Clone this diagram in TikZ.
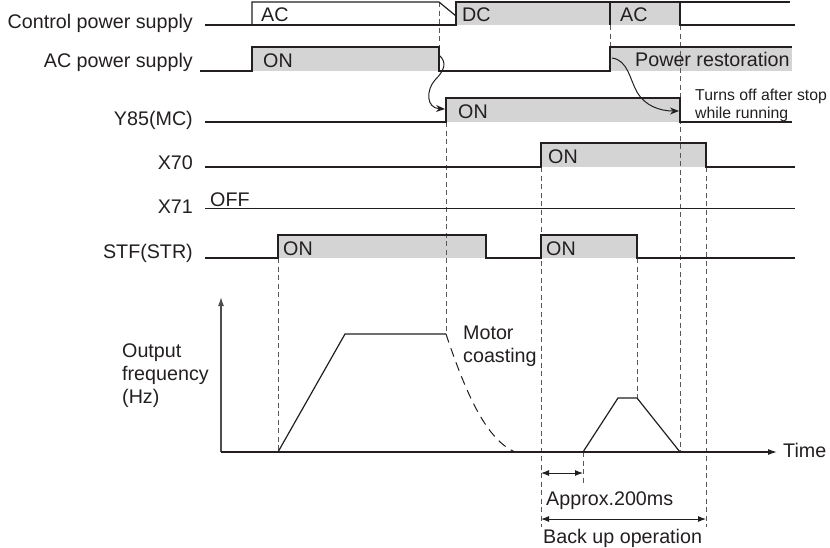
\documentclass[tikz,border=0pt]{standalone}
\usepackage{fontspec}
\setmainfont{Liberation Sans}
\usetikzlibrary{arrows.meta}
\definecolor{boxgray}{HTML}{D4D4D4}
\definecolor{ink}{HTML}{231F20}

\begin{document}
\begin{tikzpicture}[
  x=1pt, y=-1pt,
  sig/.style={draw=ink, line width=1.2pt},
  hi/.style={fill=boxgray, draw=none},
  guide/.style={draw=ink!75, line width=0.9pt, dash pattern=on 5pt off 3.5pt},
  txt/.style={font=\fontsize{19.7}{23}\selectfont, text=ink, inner sep=0pt},
  note/.style={font=\fontsize{15.8}{17.5}\selectfont, text=ink, inner sep=0pt, align=left},
  arrow/.style={-{Stealth[length=9pt,width=7pt]}, draw=ink, line width=1pt},
  dim/.style={{Latex[length=8pt,width=6pt]}-{Latex[length=8pt,width=6pt]}, draw=ink, line width=1pt}
]
\useasboundingbox (0,0) rectangle (830,547);

\fill[hi] (456,2) rectangle (680,25);
\fill[hi] (252,47) rectangle (439,71);
\fill[hi] (610,47) rectangle (792,71);
\fill[hi] (446,98) rectangle (680,122);
\fill[hi] (541,143) rectangle (706,167);
\fill[hi] (278,235) rectangle (486,258);
\fill[hi] (541,235) rectangle (637,258);

\foreach \x/\a/\b in {439/2/47, 446/122/334, 278/258/452, 541/167/527, 610/25/47,
                       680/25/452, 637/258/398, 706/167/527, 583/452/483}
  \draw[guide] (\x,\a) -- (\x,\b);

\draw[sig] (205,25) -- (456,25) -- (456,2) -- (790,2);
\draw[sig] (252,25) -- (252,2) -- (439,2) -- (456,16);
\draw[sig] (610,2) -- (610,25);
\draw[sig] (680,2) -- (680,25) -- (795,25);
\draw[sig] (200,71) -- (252,71) -- (252,47) -- (439,47) -- (439,71) -- (610,71) -- (610,47) -- (792,47);
\draw[sig] (205,122) -- (446,122) -- (446,98) -- (680,98) -- (680,122) -- (792,122);
\draw[sig] (205,167) -- (541,167) -- (541,143) -- (706,143) -- (706,167) -- (795,167);
\draw[sig] (205,208.5) -- (795,208.5);
\draw[sig] (205,258) -- (278,258) -- (278,235) -- (486,235) -- (486,258) -- (541,258)
  -- (541,235) -- (637,235) -- (637,258) -- (795,258);

\node[txt, anchor=base east] (ctrl) at (193,28) {Control power supply};
\node[txt, anchor=base east] (acps) at (193,67) {AC power supply};
\node[txt, anchor=base east] (y85) at (193,125) {Y85(MC)};
\node[txt, anchor=base east] (x70) at (193,169) {X70};
\node[txt, anchor=base east] (x71) at (193,213) {X71};
\node[txt, anchor=base east] (stf) at (193,258) {STF(STR)};
\node[txt, anchor=base west] (off) at (210,206) {OFF};

\node[txt, anchor=base west] (ac1) at (261,21.5) {AC};
\node[txt, anchor=base west] (dc) at (462,21.5) {DC};
\node[txt, anchor=base west] (ac2) at (620,21.5) {AC};
\node[txt, anchor=base west] (acon) at (263,67) {ON};
\node[txt, anchor=base west] (restore) at (635,66.5) {Power restoration};
\node[txt, anchor=base west] (y85on) at (458,118) {ON};
\node[txt, anchor=base west] (x70on) at (548,163) {ON};
\node[txt, anchor=base west] (stfon1) at (283,255) {ON};
\node[txt, anchor=base west] (stfon2) at (546,255) {ON};
\node[note, anchor=north west] (turnoff) at (695,89.3) {Turns off after stop\\while running};

\coordinate (acfall) at (439,55);
\coordinate (mcon) at (445,109);
\coordinate (acrise) at (612,58);
\coordinate (mcoff) at (679,111);
\draw[arrow] (acfall) .. controls (447,62) and (445,70) .. (435,80)
  .. controls (426,90) and (426,108) .. (mcon);
\draw[arrow] (acrise) .. controls (628,60) and (630,80) .. (637,92)
  .. controls (645,106) and (660,111) .. (mcoff);

\coordinate (origin) at (221,452);
\coordinate (ytop) at (221,297);
\coordinate (xend) at (777,452);
\draw[-{Latex[length=9pt,width=6pt]}, draw=ink!80, line width=1.3pt] (origin) -- (ytop);
\draw[-{Latex[length=9pt,width=6pt]}, draw=ink, line width=1.2pt] (origin) -- (xend);
\node[txt, anchor=base west] (time) at (783,457) {Time};
\node[txt, anchor=north west, align=left] (ofreq) at (122,343.7) {Output\\frequency\\(Hz)};

\draw[sig] (278,452) -- (345,334) -- (446,334);
\draw[draw=ink, line width=1pt, dash pattern=on 9pt off 6pt] (446,334)
  .. controls (468,400) and (488,440) .. (515,452);
\node[txt, anchor=north west, align=left] (coast) at (463,325.7) {Motor\\coasting};
\draw[sig] (583,452) -- (618,398) -- (637,398) -- (680,452);

\coordinate (bk0) at (541,519);
\coordinate (bk1) at (706,519);
\coordinate (ap0) at (541,473);
\coordinate (ap1) at (583,473);
\draw[dim] (ap0) -- (ap1);
\draw[dim] (bk0) -- (bk1);
\node[txt, anchor=base west] (approx) at (546,505) {Approx.200ms};
\node[txt, anchor=base west] (backup) at (543,543) {Back up operation};
\end{tikzpicture}
\end{document}
